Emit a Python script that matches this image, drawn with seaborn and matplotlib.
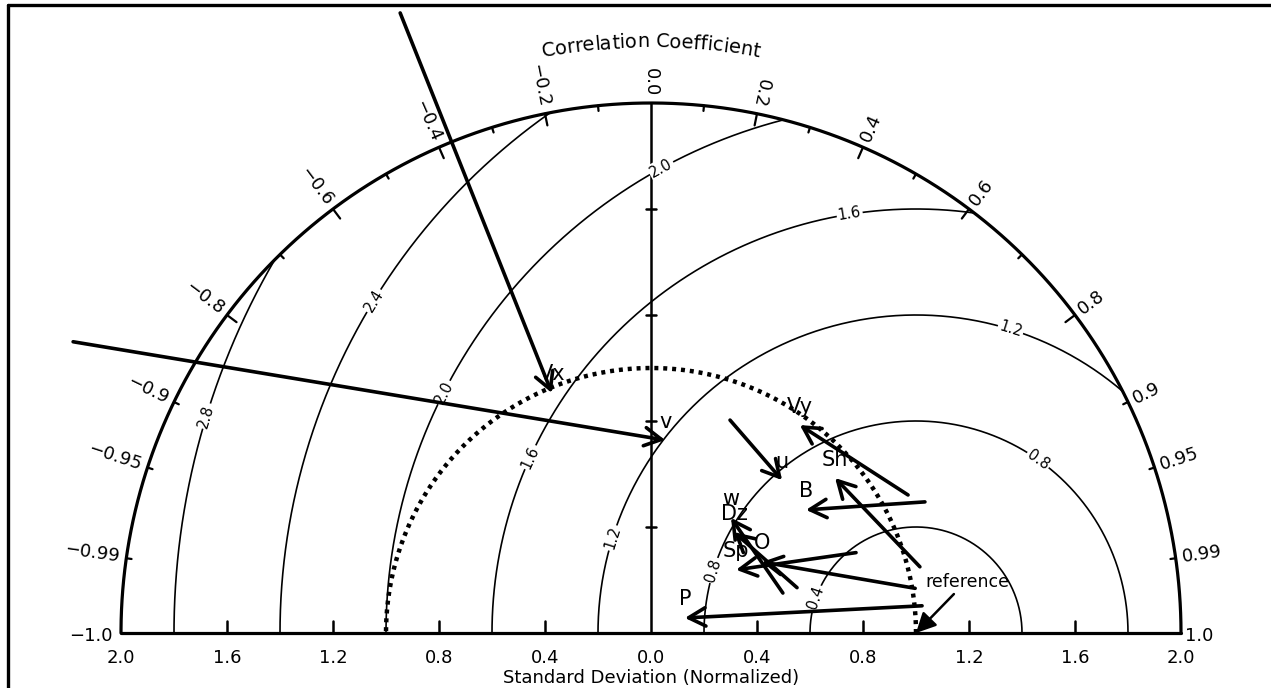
import numpy as np
import matplotlib
matplotlib.use('Agg')
import matplotlib.pyplot as plt
import seaborn as sns
from matplotlib.lines import Line2D
from matplotlib.textpath import TextToPath
from matplotlib.font_manager import FontProperties

sns.set_theme(style='white')
plt.rcParams['font.family'] = ['DejaVu Sans']
plt.rcParams['text.color'] = 'black'

# model statistics: normalized standard deviation and correlation, arrow tail -> arrow head
names = ['Vx', 'v', 'Vy', 'u', 'Sh', 'B', 'w', 'Dz', 'Sp', 'O', 'P']
std_from = [2.524, 2.442, 1.101, 0.857, 1.045, 1.146, 0.520, 0.577, 0.831, 1.011, 1.028]
corr_from = [-0.375, -0.893, 0.881, 0.348, 0.971, 0.902, 0.957, 0.955, 0.931, 0.986, 0.995]
std_to = [0.980, 0.730, 0.965, 0.760, 0.908, 0.747, 0.529, 0.493, 0.400, 0.497, 0.140]
corr_to = [-0.382, 0.073, 0.582, 0.651, 0.765, 0.783, 0.571, 0.635, 0.803, 0.842, 0.914]

ref_std = 1.0
ref_label = 'reference'

# centred RMS difference contours
rms_levels = [0.4, 0.8, 1.2, 1.6, 2.0, 2.4, 2.8]

# axis ticks
std_ticks = [-2.0, -1.6, -1.2, -0.8, -0.4, 0.0, 0.4, 0.8, 1.2, 1.6, 2.0]
std_ticklabels = ['2.0', '1.6', '1.2', '0.8', '0.4', '0.0', '0.4', '0.8', '1.2', '1.6', '2.0']
corr_ticks = [-0.99, -0.95, -0.9, -0.8, -0.6, -0.4, -0.2, 0.0, 0.2, 0.4, 0.6, 0.8, 0.9, 0.95, 0.99]
corr_ticklabels = ['\u22120.99', '\u22120.95', '\u22120.9', '\u22120.8', '\u22120.6', '\u22120.4', '\u22120.2',
                   '0.0', '0.2', '0.4', '0.6', '0.8', '0.9', '0.95', '0.99']
corr_minor = [-0.7, -0.5, -0.3, -0.1, 0.1, 0.3, 0.5, 0.7]
corr_long = [-0.8, -0.6, -0.4, -0.2, 0.2, 0.4, 0.6, 0.8]

# where the contour labels sit on each circle (angle around the reference point, degrees)
rms_label_angles = {0.4: [160.6], 0.8: [162.8, 54.8], 1.2: [162.6, 72.7], 1.6: [155.5, 99.0],
                    2.0: [153.0, 118.7], 2.4: [148.5], 2.8: [163.0]}

W, H = 1271, 688
X0, Y0, SC = 651, 633, 265.0   # origin in pixels and pixels per unit

fig = plt.figure(figsize=(W / 100, H / 100), dpi=100)
ax = fig.add_axes([0, 0, 1, 1])
ax.set_xlim(-X0 / SC, (W - X0) / SC)
ax.set_ylim(-(H - Y0) / SC, Y0 / SC)
ax.axis('off')

smax = 2.0


def polar(s, c):
    c = np.asarray(c, dtype=float)
    s = np.asarray(s, dtype=float)
    return s * c, s * np.sqrt(1 - c ** 2)


def line(x, y, **kw):
    sns.lineplot(x=np.asarray(x), y=np.asarray(y), sort=False, estimator=None, ax=ax,
                 color='black', legend=False, **kw)


# outer arc and axes
t = np.linspace(0, np.pi, 500)
line(smax * np.cos(t), smax * np.sin(t), lw=2.3)
line([-smax, smax], [0, 0], lw=2.3)
line([0, 0], [0, smax], lw=1.8)

# dotted reference std arc
ax.plot(ref_std * np.cos(t), ref_std * np.sin(t), color='black', lw=3.2,
        linestyle=(0, (0.9, 1.1)), dash_capstyle='butt')

# RMS circles
for r in rms_levels:
    t0 = np.arccos(np.clip((smax ** 2 - ref_std ** 2 - r ** 2) / (2 * r * ref_std), -1, 1))
    tt = np.linspace(t0, np.pi, 400)
    line(ref_std + r * np.cos(tt), r * np.sin(tt), lw=1.2)
    for a in rms_label_angles[r]:
        ar = np.radians(a)
        ax.text(ref_std + r * np.cos(ar), r * np.sin(ar), f'{r:.1f}', fontsize=10.5,
                rotation=a - 90, rotation_mode='anchor', ha='center', va='center',
                bbox=dict(boxstyle='square,pad=0.1', fc='white', ec='none'), zorder=3)

# std ticks on the base line and on the vertical axis
for s in std_ticks:
    if abs(s) not in (0.0, 2.0):
        line([s, s], [0, 0.045], lw=1.8)
for s, lab in zip(std_ticks, std_ticklabels):
    ax.text(s, -0.112, lab, fontsize=13, ha='center', va='baseline')
for s in [0.4, 0.8, 1.2, 1.6]:
    line([-0.017, 0.017], [s, s], lw=1.8)
ax.text(0, -0.19, 'Standard Deviation (Normalized)', fontsize=13, ha='center', va='baseline')

# correlation ticks and labels
for c in corr_ticks + corr_minor:
    if c == 0.0:
        continue
    th = np.arccos(c)
    ln = 0.045 if c in corr_long else 0.02
    line([smax * np.cos(th), (smax - ln) * np.cos(th)], [smax * np.sin(th), (smax - ln) * np.sin(th)], lw=1.6)
for c, lab in zip(corr_ticks, corr_ticklabels):
    th = np.arccos(c)
    rr = smax + 0.025
    if c <= 0.2:
        ax.text(rr * np.cos(th), rr * np.sin(th), lab, fontsize=13, rotation=np.degrees(th) - 180,
                rotation_mode='anchor', ha='right', va='center')
    else:
        ax.text(rr * np.cos(th), rr * np.sin(th), lab, fontsize=13, rotation=np.degrees(th),
                rotation_mode='anchor', ha='left', va='center')
ax.text(-smax - 0.03, -0.01, '\u22121.0', fontsize=13, ha='right', va='center')
ax.text(smax + 0.015, -0.01, '1.0', fontsize=13, ha='left', va='center')

# curved title
title = 'Correlation Coefficient'
prop = FontProperties(family='DejaVu Sans', size=14)
ttp = TextToPath()


def tw(s):
    return ttp.get_text_width_height_descent(s, prop, ismath=False)[0] * 100 / 72 / SC


total = tw(title)
r_title = 2.21
for i, ch in enumerate(title):
    if ch == ' ':
        continue
    centre = tw(title[:i + 1]) - tw(ch) / 2 - total / 2
    ang = np.pi / 2 - centre / r_title
    ax.text(r_title * np.cos(ang), r_title * np.sin(ang), ch, fontproperties=prop,
            rotation=np.degrees(ang) - 90, rotation_mode='anchor', ha='center', va='baseline')

# model arrows
xf, yf = polar(std_from, corr_from)
xt, yt = polar(std_to, corr_to)
for n, a, b, c, d in zip(names, xf, yf, xt, yt):
    ax.annotate('', xy=(c, d), xytext=(a, b),
                arrowprops=dict(arrowstyle='->,head_length=0.55,head_width=0.3', lw=2.6,
                                color='black', shrinkA=0, shrinkB=0, mutation_scale=22), zorder=4)
    ax.annotate(n, xy=(c, d), xytext=(0, 9), textcoords='offset points', fontsize=15,
                ha='center', va='baseline', zorder=5)

# reference point
ax.annotate('', xy=(ref_std, 0), xytext=(ref_std + 0.143, 0.147),
            arrowprops=dict(arrowstyle='-|>,head_length=0.6,head_width=0.3', lw=1.8, color='black',
                            shrinkA=0, shrinkB=0, mutation_scale=20), zorder=4)
ax.text(ref_std + 0.034, 0.174, ref_label, fontsize=12.5, ha='left', va='baseline')

# frame
fig.add_artist(Line2D([8 / W, 1], [1 - 5 / H, 1 - 5 / H], transform=fig.transFigure, color='black', lw=2.4))
fig.add_artist(Line2D([8 / W, 8 / W], [0, 1 - 5 / H], transform=fig.transFigure, color='black', lw=2.4))

fig.savefig('out.png', dpi=100)
